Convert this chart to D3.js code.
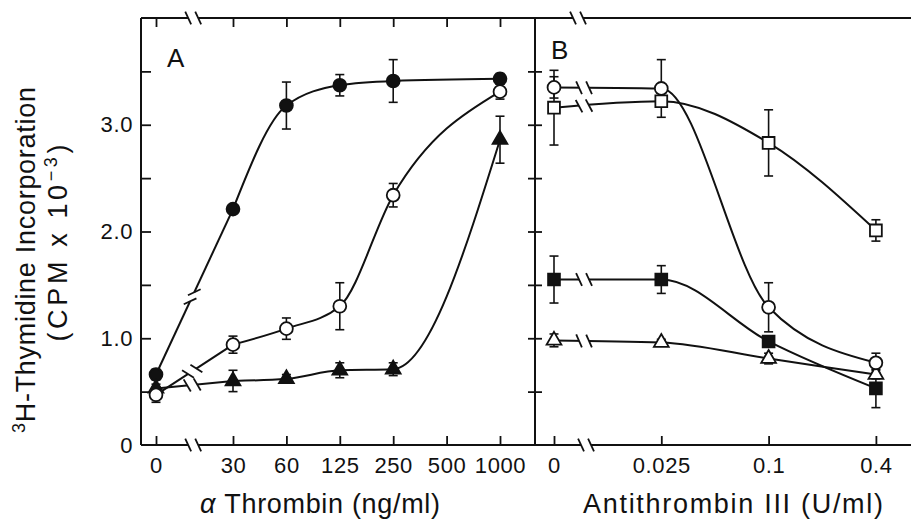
<!DOCTYPE html>
<html>
<head>
<meta charset="utf-8">
<script src="https://cdn.jsdelivr.net/npm/d3@7/dist/d3.min.js"></script>
<style>
    body { margin: 0; background: #fff; }
    text { font-family: "Liberation Sans", Arial, sans-serif; fill: #111; }
</style>
</head>
<body>
<svg id="chart" width="911" height="520"></svg>
<script>
// panel A: alpha thrombin dose (ng/ml)
const thrombinTicks   = [0, 30, 60, 125, 250, 500, 1000]
const thrombinX       = [0, 30, 60, 125, 250, 1000]
const closedCircleA   = [0.66, 2.21, 3.18, 3.37, 3.41, 3.43]
const closedCircleAEr = [0.05, 0.04, 0.22, 0.10, 0.20, 0.05]
const openCircleA     = [0.47, 0.94, 1.09, 1.30, 2.34, 3.31]
const openCircleAEr   = [0.07, 0.08, 0.10, 0.22, 0.11, 0.07]
const closedTriA      = [0.53, 0.60, 0.62, 0.70, 0.71, 2.86]
const closedTriAEr    = [0.04, 0.10, 0.04, 0.07, 0.06, 0.22]

// panel B: antithrombin III (U/ml)
const antithrombinX   = [0, 0.025, 0.1, 0.4]
const openCircleB     = [3.35, 3.34, 1.29, 0.77]
const openCircleBEr   = [0.10, 0.27, 0.23, 0.09]
const openSquareB     = [3.16, 3.22, 2.83, 2.01]
const openSquareBEr   = [0.35, 0.05, 0.31, 0.10]
const closedSquareB   = [1.55, 1.55, 0.97, 0.53]
const closedSquareBEr = [0.22, 0.13, 0.05, 0.18]
const openTriB        = [0.98, 0.96, 0.81, 0.66]
const openTriBEr      = [0.06, 0.03, 0.05, 0.04]

const yTicks      = [0, 1, 2, 3]
const yMinorTicks = [0.5, 1, 1.5, 2, 2.5, 3, 3.5]

const frame = { left: 141, mid: 535, right: 911, top: 18, bottom: 445 }

const svg = d3.select('#chart')

const y = d3.scaleLinear().domain([0, 4]).range([frame.bottom, frame.top])

const xA = d3.scaleLinear()
    .domain(thrombinTicks)
    .range(thrombinTicks.map((d, i) => i === 0 ? 156 : 233 + (i - 1) * 53.4))

const xB = d3.scaleLinear()
    .domain(antithrombinX)
    .range(antithrombinX.map((d, i) => 554 + i * 107.3))

const zip = (xs, ys, es) => xs.map((x, i) => ({ x, y: ys[i], e: es[i] }))

const panels = [
    {
        x: xA, xs: thrombinX, ticks: thrombinTicks, brk: 0.47, straightFirst: true,
        series: [
            { shape: 'circle',   filled: true,  data: zip(thrombinX, closedCircleA, closedCircleAEr) },
            { shape: 'triangle', filled: true,  data: zip(thrombinX, closedTriA, closedTriAEr) },
            { shape: 'circle',   filled: false, data: zip(thrombinX, openCircleA, openCircleAEr) }
        ]
    },
    {
        x: xB, xs: antithrombinX, ticks: antithrombinX, brk: 0.28, straightFirst: false,
        series: [
            { shape: 'triangle', filled: false, data: zip(antithrombinX, openTriB, openTriBEr) },
            { shape: 'square',   filled: true,  data: zip(antithrombinX, closedSquareB, closedSquareBEr) },
            { shape: 'circle',   filled: false, data: zip(antithrombinX, openCircleB, openCircleBEr) },
            { shape: 'square',   filled: false, data: zip(antithrombinX, openSquareB, openSquareBEr) }
        ]
    }
]

const symbols = {
    circle:   d3.symbol(d3.symbolCircle, 130),
    square:   d3.symbol(d3.symbolSquare, 140),
    triangle: d3.symbol(d3.symbolTriangle, 95)
}

const stroke = '#111'

// inward ticks, no domain lines (frame drawn separately)
const noDomain = g => g.select('.domain').remove()

svg.append('g')
    .attr('transform', `translate(${frame.left},0)`)
    .call(d3.axisRight(y).tickValues(yMinorTicks).tickSize(10).tickFormat(''))
    .call(noDomain)

svg.append('g')
    .attr('transform', `translate(${frame.left},0)`)
    .call(d3.axisLeft(y).tickValues(yTicks).tickSize(0).tickPadding(8)
        .tickFormat(d => d === 0 ? '0' : d.toFixed(1)))
    .call(noDomain)

svg.append('g')
    .attr('transform', `translate(${frame.mid},0)`)
    .call(d3.axisRight(y).tickValues(yMinorTicks).tickSize(7).tickFormat(''))
    .call(noDomain)

svg.append('g')
    .attr('transform', `translate(${frame.mid},0)`)
    .call(d3.axisLeft(y).tickValues(yMinorTicks).tickSize(7).tickFormat(''))
    .call(noDomain)

panels.forEach((p, i) => {
    svg.append('g')
        .attr('transform', `translate(0,${frame.bottom})`)
        .call(d3.axisTop(p.x).tickValues(p.ticks).tickSize(9).tickFormat(''))
        .call(noDomain)

    svg.append('g')
        .attr('transform', `translate(0,${frame.bottom})`)
        .call(d3.axisBottom(p.x).tickValues(p.ticks).tickSize(0).tickPadding(12).tickFormat(d => d))
        .call(noDomain)

    if (i === 0) {
        svg.append('g')
            .attr('transform', `translate(0,${frame.top})`)
            .call(d3.axisBottom(p.x).tickValues(p.ticks).tickSize(9).tickFormat(''))
            .call(noDomain)
    }
})

svg.selectAll('.tick line').attr('stroke', stroke).attr('stroke-width', 1.8)
svg.selectAll('.tick text')
    .attr('fill', stroke)
    .style('font-size', '22px')
    .style('letter-spacing', '0.6px')

// frame
const frameLines = [
    [frame.left, frame.bottom, frame.right, frame.bottom],
    [frame.left, frame.top, frame.right, frame.top],
    [frame.left, frame.top, frame.left, frame.bottom],
    [frame.mid, frame.top, frame.mid, frame.bottom]
]
svg.append('g').selectAll('line')
    .data(frameLines)
    .join('line')
    .attr('x1', d => d[0]).attr('y1', d => d[1])
    .attr('x2', d => d[2]).attr('y2', d => d[3])
    .attr('stroke', stroke)
    .attr('stroke-width', 2)

// break symbol: white gap plus two slashes, turned with the line
const drawBreak = (g, cx, cy, angle, tilt = 65) => {
    const el = g.append('g')
        .attr('transform', `translate(${cx},${cy}) rotate(${angle})`)
    el.append('line')
        .attr('x1', -5).attr('x2', 5)
        .attr('stroke', '#fff').attr('stroke-width', 6)
    ;[-5, 5].forEach(o => {
        el.append('line')
            .attr('transform', `translate(${o},0) rotate(${tilt})`)
            .attr('x1', -7).attr('x2', 7)
            .attr('stroke', stroke).attr('stroke-width', 1.8)
    })
}

const breaks = svg.append('g')

panels.forEach((p, i) => {
    const x0 = p.x(p.xs[0]), x1 = p.x(p.xs[1])
    const bx = x0 + (x1 - x0) * p.brk
    drawBreak(breaks, bx + (i === 0 ? 1 : -6), frame.top, 0)
    drawBreak(breaks, bx + (i === 0 ? 1 : 2), frame.bottom, 0)
})

// series
const lineGen = x => d3.line().x(d => x(d.x)).y(d => y(d.y))

panels.forEach(p => {
    const g = svg.append('g')

    p.series.forEach(s => {
        const paths = p.straightFirst
            ? [lineGen(p.x)(s.data.slice(0, 2)), lineGen(p.x).curve(d3.curveMonotoneX)(s.data.slice(1))]
            : [lineGen(p.x).curve(d3.curveMonotoneX)(s.data)]

        g.selectAll(null)
            .data(paths)
            .join('path')
            .attr('d', d => d)
            .attr('fill', 'none')
            .attr('stroke', stroke)
            .attr('stroke-width', 2)

        const a = s.data[0], b = s.data[1]
        const ax = p.x(a.x), ay = y(a.y), bx = p.x(b.x), by = y(b.y)
        const angle = Math.atan2(by - ay, bx - ax) * 180 / Math.PI
        // steep lines get slashes closer to the line direction
        const tilt = Math.abs(angle) > 40 ? 40 : 65
        drawBreak(g, ax + (bx - ax) * p.brk, ay + (by - ay) * p.brk, angle, tilt)
    })

    p.series.forEach(s => {
        const bars = g.append('g')
            .selectAll('g')
            .data(s.data)
            .join('g')
            .attr('transform', d => `translate(${p.x(d.x)},0)`)

        bars.append('line')
            .attr('y1', d => y(d.y - d.e)).attr('y2', d => y(d.y + d.e))
            .attr('stroke', stroke).attr('stroke-width', 1.6)

        bars.selectAll('.cap')
            .data(d => [d.y - d.e, d.y + d.e])
            .join('line')
            .attr('class', 'cap')
            .attr('x1', -4.5).attr('x2', 4.5)
            .attr('y1', d => y(d)).attr('y2', d => y(d))
            .attr('stroke', stroke).attr('stroke-width', 1.6)
    })

    p.series.forEach(s => {
        g.append('g')
            .selectAll('path')
            .data(s.data)
            .join('path')
            .attr('transform', d => `translate(${p.x(d.x)},${y(d.y)})`)
            .attr('d', symbols[s.shape])
            .attr('fill', s.filled ? stroke : '#fff')
            .attr('stroke', stroke)
            .attr('stroke-width', 1.8)
    })
})

// panel letters
svg.append('text').attr('x', 167).attr('y', 67).style('font-size', '26px').text('A')
svg.append('text').attr('x', 551).attr('y', 59).style('font-size', '26px').text('B')

// axis titles
const xTitleA = svg.append('text')
    .attr('x', 320).attr('y', 513)
    .attr('text-anchor', 'middle')
    .attr('textLength', 240)
    .style('font-size', '27px')
xTitleA.append('tspan').style('font-style', 'italic').text('α')
xTitleA.append('tspan').text(' Thrombin (ng/ml)')

svg.append('text')
    .attr('x', 733).attr('y', 513)
    .attr('text-anchor', 'middle')
    .attr('textLength', 300)
    .style('font-size', '27px')
    .text('Antithrombin III (U/ml)')

const yTitle1 = svg.append('text')
    .attr('transform', 'translate(35,260) rotate(-90)')
    .attr('text-anchor', 'middle')
    .attr('textLength', 346)
    .style('font-size', '27px')
yTitle1.append('tspan').attr('baseline-shift', 'super').style('font-size', '18px').text('3')
yTitle1.append('tspan').text('H-Thymidine Incorporation')

const yTitle2 = svg.append('text')
    .attr('transform', 'translate(67,243) rotate(-90)')
    .attr('text-anchor', 'middle')
    .attr('textLength', 197)
    .style('font-size', '27px')
yTitle2.append('tspan').text('(CPM x 10')
yTitle2.append('tspan').attr('baseline-shift', 'super').style('font-size', '18px').text('−3')
yTitle2.append('tspan').text(')')
</script>
</body>
</html>
